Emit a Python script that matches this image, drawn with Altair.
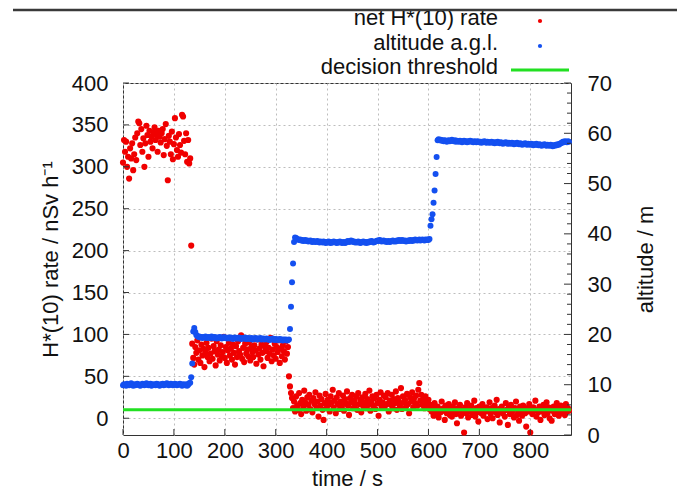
import altair as alt
import pandas as pd

FONT = "Liberation Sans"
RED = "#f00000"
BLUE = "#1450f0"
GREEN = "#22e022"
INK = "#111111"

# time axis: samples every 2 s
time_s = list(range(0, 878, 2))

# net H*(10) rate (nSv/h), per flight segment
rate_seg1 = [305, 332, 318, 330, 300, 312, 286, 322, 310, 328,
             296, 315, 335, 308, 340, 354, 352, 326, 345, 318,
             334, 300, 328, 349, 338, 312, 343, 330, 336, 322,
             341, 347, 332, 338, 318, 343, 336, 329, 340, 345,
             314, 333, 351, 325, 284, 337, 330, 315, 342, 309,
             327, 358, 335, 320, 312, 339, 326, 317, 362, 360,
             331, 315, 340, 306, 332, 304, 310]
rate_spike = [206]
rate_seg2 = [89, 72, 64, 85, 78, 93, 70, 81, 66, 88,
             75, 83, 61, 79, 90, 73, 84, 68, 77, 95,
             71, 86, 80, 63, 92, 76, 82, 69, 87, 74,
             79, 97, 72, 85, 66, 81, 90, 75, 83, 70,
             88, 78, 64, 86, 73, 92, 80, 76, 99, 71,
             84, 67, 89, 77, 82, 74, 91, 69, 85, 79,
             73, 87, 81, 65, 94, 76, 83, 70, 88, 78,
             62, 86, 80, 91, 72, 84, 77, 96, 68, 82,
             75, 89, 71, 85, 79, 93, 66, 83, 74, 87,
             80, 70, 92, 77, 85]
rate_drop = [50, 38, 30, 24]
rate_seg3 = [12, 20, 8, 26, 15, 10, 30, 18, 5, 22,
             14, 33, 19, 9, 25, 16, 28, 11, 21, 7,
             24, 17, 31, 13, 20, 2, 27, 15, 23, 10,
             -2, 18, 29, 12, 22, 16, 8, 26, 19, 34,
             13, 21, 6, 25, 17, 30, 11, 20, 14, 27,
             9, 23, 18, 32, 15, 4, 24, 19, 28, 12,
             21, 16, 26, 10, 30, 17, 22, 7, 25, 14,
             19, 29, 12, 23, 16, 33, 9, 20, 26, 15,
             24, 11, 28, 18, 3, 22, 31, 14, 19, 27,
             13, 25, 17, 30, 8, 21, 16, 28, 12, 23,
             18, 32, 10, 24, 20, 15, 36, 11, 26, 19,
             22, 14, 29, 17, 6, 25, 20, 31, 13, 24,
             18, 27, 15, 34, 42, 21, 28, 16, 23, 12,
             26, 19, 14, 22, 11]
rate_seg4 = [16, 8, 13, 3, 18, 10, 5, 14, 1, 11,
             7, 20, 9, 12, -2, 15, 6, 10, 17, 4,
             11, 2, 14, 8, 19, 5, -6, 12, 9, 16,
             3, 10, 7, -17, 13, 6, 18, 1, 11, 8,
             15, 4, 9, 21, 2, 12, 7, -4, 14, 10,
             6, 17, 3, 11, 8, 13, -1, 9, 19, 5,
             12, 0, 10, 15, 7, 22, 4, 11, -5, 8,
             14, 6, 9, 2, 18, 10, -8, 13, 5, 16,
             7, 11, 1, 12, 20, 4, 9, -3, 14, 8,
             3, 15, 10, 6, -10, 12, 8, 17, -17, 11,
             5, 13, 9, 21, 2, 10, 7, 14, -2, 12,
             8, 16, 4, 11, 19, 6, 13, 0, 10, -3,
             9, 14, 5, 12, 18, 7, 3, 11, 15, 6,
             10, 13, 4, 17, 8, 12, 9]

# altitude above ground level (m)
alt_seg1 = [9.9, 10.1, 10.0, 9.8, 10.2, 10.0, 9.9, 10.1, 10.3, 10.0,
            9.8, 10.1, 9.9, 10.0, 10.2, 10.1, 9.9, 9.8, 10.0, 10.2,
            10.1, 9.9, 10.0, 10.3, 10.1, 9.9, 10.0, 10.2, 9.8, 10.0,
            10.1, 10.0, 9.9, 10.2, 10.1, 10.0, 9.8, 10.1, 10.0, 10.2,
            9.9, 10.1, 10.0, 10.3, 10.1, 9.9, 10.0, 10.2, 10.1, 9.9,
            10.0, 10.2, 10.1, 9.9, 10.0, 10.1, 10.2, 10.0, 9.8, 10.1,
            10.0, 9.9, 10.1, 9.8, 10.0, 10.3]
alt_climb1 = [10.4, 11.5, 14.2, 20.6, 21.3, 20.5, 19.9]
alt_seg2 = [19.7, 19.5, 19.6, 19.4, 19.5, 19.3, 19.5, 19.4, 19.6, 19.3,
            19.4, 19.5, 19.3, 19.4, 19.6, 19.4, 19.3, 19.5, 19.4, 19.2,
            19.4, 19.3, 19.5, 19.4, 19.2, 19.3, 19.5, 19.3, 19.4, 19.2,
            19.3, 19.4, 19.2, 19.4, 19.3, 19.1, 19.3, 19.4, 19.2, 19.3,
            19.2, 19.4, 19.3, 19.1, 19.2, 19.3, 19.2, 19.4, 19.1, 19.2,
            19.3, 19.1, 19.2, 19.3, 19.0, 19.2, 19.1, 19.3, 19.2, 19.0,
            19.2, 19.1, 19.3, 19.0, 19.1, 19.2, 19.0, 19.1, 19.2, 19.0,
            19.1, 18.9, 19.1, 19.0, 19.2, 19.0, 18.9, 19.1, 19.0, 18.9,
            19.0, 19.1, 18.9, 19.0, 18.8, 19.0, 18.9, 19.0, 18.8, 18.9]
alt_climb2 = [19.0, 21.1, 25.5, 30.4, 34.1, 38.4, 39.3]
alt_seg3 = [39.2, 39.0, 38.9, 38.8, 38.9, 38.7, 38.8, 38.6, 38.7, 38.8,
            38.6, 38.7, 38.5, 38.6, 38.7, 38.5, 38.4, 38.6, 38.5, 38.4,
            38.5, 38.6, 38.4, 38.3, 38.5, 38.4, 38.3, 38.5, 38.4, 38.2,
            38.4, 38.3, 38.5, 38.3, 38.2, 38.4, 38.3, 38.5, 38.4, 38.3,
            38.2, 38.4, 38.3, 38.5, 38.4, 38.2, 38.3, 38.4, 38.2, 38.3,
            38.5, 38.6, 38.4, 38.5, 38.7, 38.6, 38.4, 38.5, 38.3, 38.4,
            38.3, 38.5, 38.4, 38.2, 38.3, 38.4, 38.5, 38.3, 38.4, 38.2,
            38.4, 38.3, 38.5, 38.4, 38.6, 38.5, 38.3, 38.4, 38.5, 38.6,
            38.7, 38.6, 38.8, 38.7, 38.5, 38.6, 38.7, 38.5, 38.6, 38.4,
            38.5, 38.6, 38.4, 38.5, 38.6, 38.7, 38.5, 38.6, 38.5, 38.7,
            38.6, 38.8, 38.7, 38.6, 38.8, 38.7, 38.6, 38.7, 38.5, 38.6,
            38.7, 38.6, 38.8, 38.7, 38.6, 38.8, 38.7, 38.9, 38.8, 38.7,
            38.8, 38.9, 38.7, 38.8, 38.9, 38.8, 38.7, 38.9, 38.8, 38.9,
            38.8, 39.0]
alt_climb3 = [41.6, 42.9, 43.9, 46.2, 48.6, 51.9, 55.3, 58.6]
alt_seg4 = [58.8, 58.6, 58.7, 58.5, 58.6, 58.4, 58.6, 58.5, 58.3, 58.5,
            58.6, 58.4, 58.5, 58.7, 58.5, 58.4, 58.6, 58.3, 58.5, 58.4,
            58.3, 58.5, 58.4, 58.2, 58.4, 58.5, 58.3, 58.4, 58.2, 58.4,
            58.3, 58.5, 58.4, 58.3, 58.2, 58.4, 58.3, 58.2, 58.4, 58.3,
            58.2, 58.3, 58.1, 58.3, 58.2, 58.4, 58.2, 58.1, 58.3, 58.2,
            58.1, 58.2, 58.3, 58.1, 58.2, 58.0, 58.2, 58.1, 58.3, 58.1,
            58.0, 58.2, 58.1, 57.9, 58.1, 58.0, 58.2, 58.0, 57.9, 58.1,
            58.0, 57.9, 58.1, 58.0, 57.8, 58.0, 57.9, 58.1, 57.9, 57.8,
            58.0, 57.9, 57.7, 57.9, 57.8, 58.0, 57.8, 57.7, 57.9, 57.8,
            57.7, 57.9, 57.8, 57.6, 57.8, 57.7, 57.9, 57.7, 57.6, 57.8,
            57.7, 57.5, 57.7, 57.6, 57.8, 57.6, 57.5, 57.7, 57.6, 57.5,
            57.7, 57.6, 57.4, 57.6, 57.5, 57.7, 57.6, 57.8, 57.7, 57.9,
            58.0, 58.1, 58.3, 58.2, 58.4, 58.3, 58.2, 58.4, 58.3]

threshold = [10]

x_ticks = [0, 100, 200, 300, 400, 500, 600, 700, 800]
left_ticks = [0, 50, 100, 150, 200, 250, 300, 350, 400]
right_ticks = [0, 10, 20, 30, 40, 50, 60, 70]
right_minor = [2, 4, 6, 8, 12, 14, 16, 18, 22, 24, 26, 28, 32, 34, 36, 38,
               42, 44, 46, 48, 52, 54, 56, 58, 62, 64, 66, 68]
legend_labels = ["net H*(10) rate", "altitude a.g.l.", "decision threshold"]

rate = rate_seg1 + rate_spike + rate_seg2 + rate_drop + rate_seg3 + rate_seg4
altitude = alt_seg1 + alt_climb1 + alt_seg2 + alt_climb2 + alt_seg3 + alt_climb3 + alt_seg4

df = pd.DataFrame({"time": time_s, "rate": rate, "altitude": altitude})

W, H = 448, 352
XT = "time / s"

xscale = alt.Scale(domain=[0, 880], nice=False, zero=False)
ylscale = alt.Scale(domain=[-20, 400], nice=False, zero=False)
yrscale = alt.Scale(domain=[0, 70], nice=False, zero=False)

common_axis = dict(
    ticks=False, tickSize=0, domain=False, labelFontSize=22, labelFont=FONT,
    labelColor=INK, titleFontSize=22, titleFont=FONT, titleFontWeight="normal",
    titleColor=INK, labelFlush=False, labelOverlap=False,
)

x_axis = alt.Axis(values=x_ticks, title=XT, grid=True, gridDash=[2, 3],
                  gridColor="#bdbdbd", labelPadding=5,
                  titleX=W / 2, titleY=43, titleAlign="center",
                  titleBaseline="middle", **common_axis)
left_axis = alt.Axis(values=left_ticks, title="H*(10) rate / nSv h⁻¹",
                     grid=True, gridDash=[2, 3], gridColor="#bdbdbd",
                     labelPadding=15, titleX=-73, titleY=H / 2,
                     titleAngle=270, titleAlign="center",
                     titleBaseline="middle", **common_axis)
right_axis = alt.Axis(values=right_ticks, title="altitude / m", orient="right",
                      grid=False, labelPadding=16, titleX=74, titleY=H / 2,
                      titleAngle=270, titleAlign="center",
                      titleBaseline="middle", **common_axis)

red = alt.Chart(df).mark_circle(size=38, color=RED, opacity=1).encode(
    x=alt.X("time:Q", scale=xscale, axis=x_axis, title=XT),
    y=alt.Y("rate:Q", scale=ylscale, axis=left_axis),
)
blue = alt.Chart(df).mark_circle(size=36, color=BLUE, opacity=1).encode(
    x=alt.X("time:Q", scale=xscale, title=XT),
    y=alt.Y("altitude:Q", scale=yrscale, axis=right_axis),
)
green = alt.Chart(pd.DataFrame({"thr": threshold})).mark_rule(
    color=GREEN, strokeWidth=3).encode(
    y=alt.Y("thr:Q", scale=ylscale, axis=None),
)

# inward tick marks (gnuplot style)
tick_col = "#333333"
lt = alt.Chart(pd.DataFrame({"v": left_ticks})).mark_rule(color=tick_col).encode(
    y=alt.Y("v:Q", scale=ylscale, axis=None), x=alt.value(0), x2=alt.value(6))
rt = alt.Chart(pd.DataFrame({"v": right_ticks})).mark_rule(color=tick_col).encode(
    y=alt.Y("v:Q", scale=yrscale, axis=None), x=alt.value(W - 7), x2=alt.value(W))
rm = alt.Chart(pd.DataFrame({"v": right_minor})).mark_rule(color=tick_col).encode(
    y=alt.Y("v:Q", scale=yrscale, axis=None), x=alt.value(W - 4), x2=alt.value(W))
xt = alt.Chart(pd.DataFrame({"v": x_ticks})).mark_rule(color=tick_col).encode(
    x=alt.X("v:Q", scale=xscale, title=XT), y=alt.value(H - 6), y2=alt.value(H))

# legend (gnuplot style: label on the left, sample on the right)
def leg_text(label, ybase):
    return alt.Chart(pd.DataFrame({"label": [label]})).mark_text(
        align="right", baseline="alphabetic", fontSize=22, font=FONT,
        color=INK).encode(text="label:N", x=alt.value(375), y=alt.value(ybase))

leg1 = leg_text(legend_labels[0], -58)
leg2 = leg_text(legend_labels[1], -33)
leg3 = leg_text(legend_labels[2], -9)
dot1 = alt.Chart(pd.DataFrame({"label": [legend_labels[0]]})).mark_circle(
    size=18, color=RED, opacity=1).encode(x=alt.value(417), y=alt.value(-62))
dot2 = alt.Chart(pd.DataFrame({"label": [legend_labels[1]]})).mark_circle(
    size=18, color=BLUE, opacity=1).encode(x=alt.value(417), y=alt.value(-37))
line3 = alt.Chart(pd.DataFrame({"label": [legend_labels[2]]})).mark_rule(
    color=GREEN, strokeWidth=3).encode(x=alt.value(388), x2=alt.value(446),
                                       y=alt.value(-13))

# slide decoration line at the top
topline = alt.Chart(pd.DataFrame({"label": ["frame"]})).mark_rule(
    color="#3a3a3a", strokeWidth=2.5).encode(x=alt.value(-110), x2=alt.value(554),
                                           y=alt.value(-73))

chart = alt.layer(
    red, blue, green, lt, rt, rm, xt, leg1, leg2, leg3, dot1, dot2, line3, topline
).resolve_scale(y="independent").properties(
    width=W, height=H,
    autosize=alt.AutoSizeParams(type="none"),
    padding={"left": 123, "top": 83, "right": 106, "bottom": 57},
    background="white",
).configure_view(stroke="#333333", strokeWidth=1)

chart.save("out.html", embed_options={"renderer": "svg", "actions": False})
